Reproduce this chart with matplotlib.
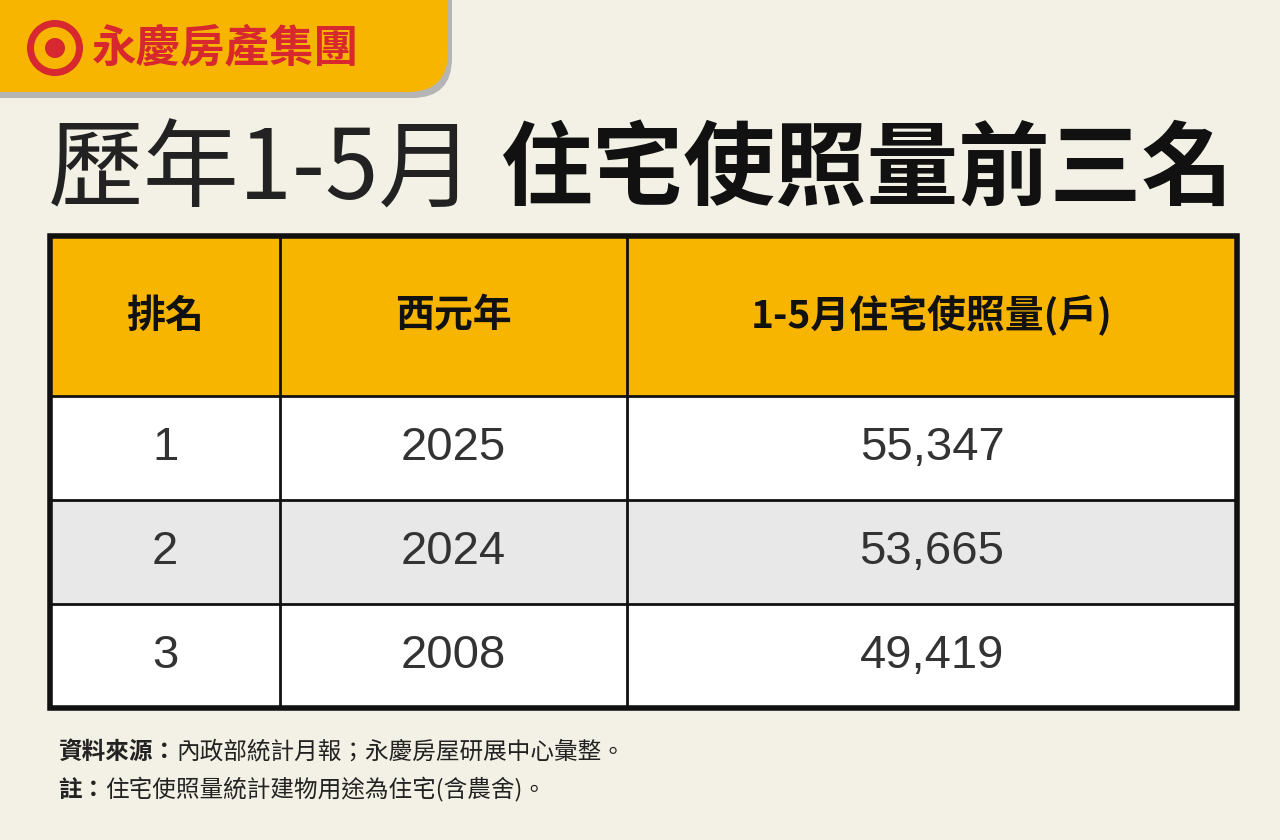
import matplotlib
matplotlib.use("Agg")
import matplotlib.pyplot as plt
from matplotlib.patches import Rectangle, FancyBboxPatch, Circle, Wedge

plt.rcParams['font.family'] = ['Noto Sans CJK TC', 'DejaVu Sans']

headers = ["排名", "西元年", "1-5月住宅使照量(戶)"]
ranks = ["1", "2", "3"]
years = ["2025", "2024", "2008"]
counts = [55347, 53665, 49419]

fig = plt.figure(figsize=(12.8, 8.4), dpi=100)
fig.patch.set_facecolor("#f3f1e5")
ax = fig.add_axes([0, 0, 1, 1])
ax.set_xlim(0, 1280); ax.set_ylim(840, 0); ax.axis("off")

def after(t, gap=0):
    fig.canvas.draw()
    bb = t.get_window_extent()
    return bb.x1 + gap  # pixel x == data x here

# top tab
ax.add_patch(FancyBboxPatch((-60, -60), 512, 158, boxstyle="round,pad=0,rounding_size=40",
                            fc="#b5b5b5", ec="none"))
ax.add_patch(FancyBboxPatch((-60, -60), 508, 152, boxstyle="round,pad=0,rounding_size=40",
                            fc="#f7b500", ec="none"))
ax.add_patch(Wedge((55, 48), 28, 0, 360, width=7, fc="#d7282f", ec="none"))
ax.add_patch(Circle((55, 48), 10, fc="#d7282f", ec="none"))
ax.text(92, 48, "永慶房產集團", fontsize=32, fontweight="bold", color="#d7282f", va="center", ha="left")

# title
ax.text(48, 172, "歷年1-5月", fontsize=69, fontweight="light", color="#222222", va="center", ha="left")
ax.text(1234, 172, "住宅使照量前三名", fontsize=66, fontweight="black", color="#111111", va="center", ha="right")

# table
x0, x1 = 50, 1237
cols = [50, 280, 627, 1237]
rows = [236, 396, 500, 604, 708]
fills = ["#f7b500", "#ffffff", "#e8e8e8", "#ffffff"]
for i in range(4):
    ax.add_patch(Rectangle((x0, rows[i]), x1 - x0, rows[i+1] - rows[i], fc=fills[i], ec="none"))
for y in rows[1:-1]:
    ax.plot([x0, x1], [y, y], color="#111111", lw=2)
for x in cols[1:-1]:
    ax.plot([x, x], [rows[0], rows[-1]], color="#111111", lw=2)
ax.add_patch(Rectangle((x0, rows[0]), x1 - x0, rows[-1] - rows[0], fc="none", ec="#111111", lw=4))

centers = [(cols[j] + cols[j+1]) / 2 for j in range(3)]
for j, h in enumerate(headers):
    ax.text(centers[j], (rows[0] + rows[1]) / 2, h, fontsize=28, fontweight="black",
            color="#111111", ha="center", va="center")
for i in range(3):
    yc = (rows[i+1] + rows[i+2]) / 2
    vals = [ranks[i], years[i], f"{counts[i]:,}"]
    for j, v in enumerate(vals):
        ax.text(centers[j], yc, v, fontsize=34, color="#333333", ha="center", va="center",
                family=['Liberation Sans', 'DejaVu Sans'])

# notes
t = ax.text(58, 752, "資料來源：", fontsize=17, fontweight="bold", color="#222222", va="center")
ax.text(after(t), 752, "內政部統計月報；永慶房屋研展中心彙整。", fontsize=17, color="#222222", va="center")
t = ax.text(58, 790, "註：", fontsize=17, fontweight="bold", color="#222222", va="center")
ax.text(after(t), 790, "住宅使照量統計建物用途為住宅(含農舍)。", fontsize=17, color="#222222", va="center")

fig.savefig("out.png", dpi=100, facecolor=fig.get_facecolor())
